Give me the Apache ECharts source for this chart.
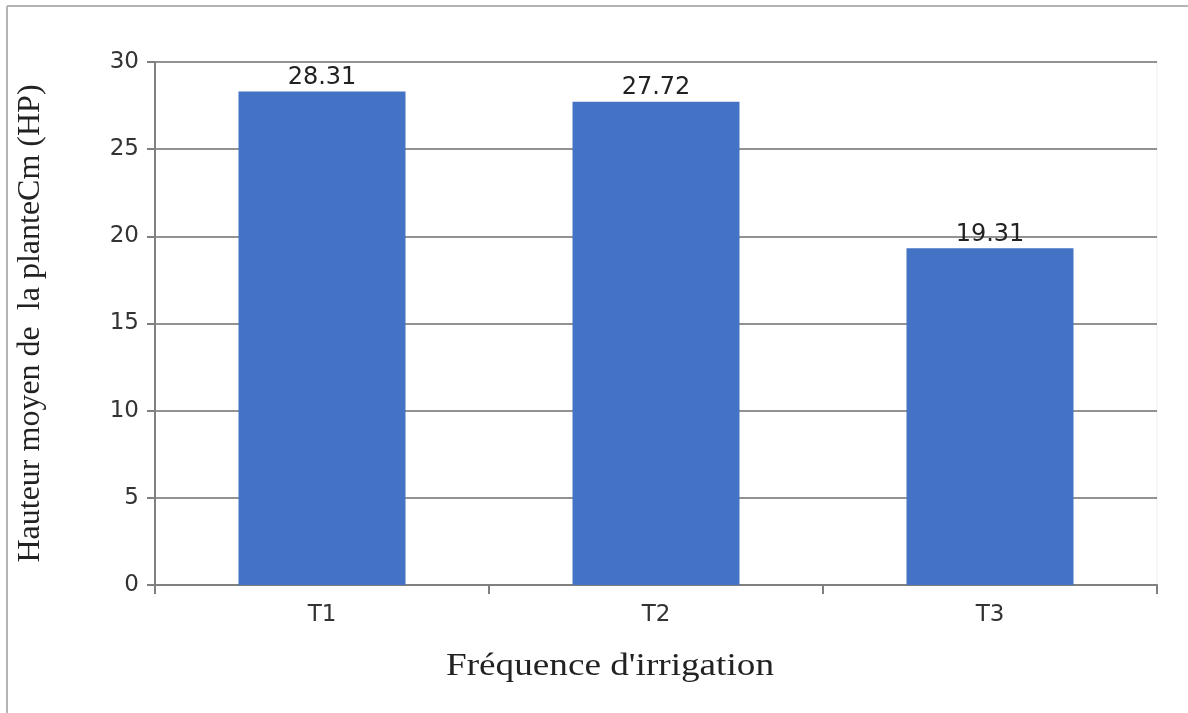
<!DOCTYPE html>
<html><head><meta charset="utf-8">
<script src="https://cdn.jsdelivr.net/npm/echarts@6/dist/echarts.min.js"></script>
<style>html,body{margin:0;padding:0;background:#fff}#c{width:1188px;height:713px}</style>
</head><body><div id="c"></div>
<script>
const categories = ['T1', 'T2', 'T3'];
const values = [28.31, 27.72, 19.31];
const yTicks = [0, 5, 10, 15, 20, 25, 30];
const xTitle = "Fréquence d'irrigation";
const yTitle = 'Hauteur moyen de  la planteCm (HP)';

const chart = echarts.init(document.getElementById('c'));
chart.setOption({
  animation: false,
  grid: { left: 155, right: 31, top: 62, bottom: 128, containLabel: false, outerBoundsMode: 'none' },
  graphic: [
    { type: 'line', shape: { x1: 7, y1: 6, x2: 1188, y2: 6 }, style: { stroke: '#b4b4b4', lineWidth: 2 } },
    { type: 'line', shape: { x1: 7, y1: 6, x2: 7, y2: 713 }, style: { stroke: '#b4b4b4', lineWidth: 2 } },
    { type: 'line', shape: { x1: 1157, y1: 62, x2: 1157, y2: 585 }, style: { stroke: '#eeeeee', lineWidth: 1 } },
    { type: 'text', x: 610, y: 667, scaleX: 1.2, scaleY: 1,
      style: { text: xTitle, fontFamily: 'Liberation Serif', fontSize: 31, fill: '#222',
        textAlign: 'center', textVerticalAlign: 'middle' } }
  ],
  xAxis: {
    type: 'category',
    data: categories,
    axisLine: { lineStyle: { color: '#808080', width: 2 } },
    axisTick: { show: true, length: 9, alignWithLabel: false, lineStyle: { color: '#808080', width: 2 } },
    axisLabel: { fontFamily: 'DejaVu Sans', fontSize: 23, color: '#333', margin: 19 }
  },
  yAxis: {
    type: 'value',
    min: 0, max: 30, interval: 5,
    name: yTitle,
    nameLocation: 'middle',
    nameGap: 108,
    nameTextStyle: { fontFamily: 'Liberation Serif', fontSize: 32, color: '#222' },
    axisLine: { show: true, lineStyle: { color: '#808080', width: 2 } },
    axisTick: { show: true, length: 8, inside: false, lineStyle: { color: '#808080', width: 2 } },
    axisLabel: { fontFamily: 'DejaVu Sans', fontSize: 23, color: '#333', margin: 16,
      formatter: v => yTicks.includes(v) ? String(v) : '' },
    splitLine: { show: true, lineStyle: { color: '#6e6e6e', width: 1.5 } }
  },
  series: [{
    type: 'bar',
    data: values,
    barWidth: '50%',
    itemStyle: { color: '#4472C4' },
    label: { show: true, position: 'top', distance: 2, fontFamily: 'DejaVu Sans', fontSize: 24, color: '#222',
      formatter: p => p.value.toFixed(2) }
  }]
});
</script></body></html>
